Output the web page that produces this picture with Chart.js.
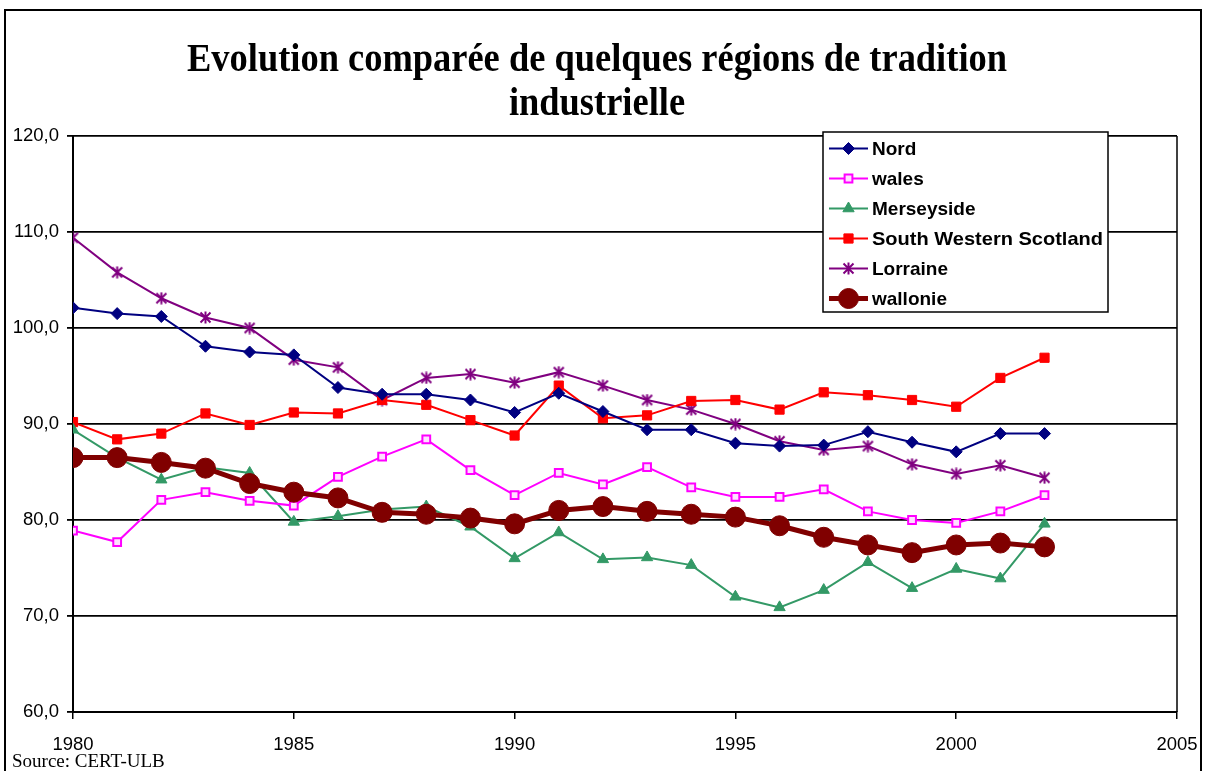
<!DOCTYPE html>
<html>
<head>
<meta charset="utf-8">
<script src="https://cdn.jsdelivr.net/npm/chart.js@4/dist/chart.umd.min.js"></script>
<style>
  html, body { margin: 0; padding: 0; background: #fff; }
  #wrap { width: 1210px; height: 771px; position: relative; }
</style>
</head>
<body>
<div id="wrap"><canvas id="c" width="1210" height="771"></canvas></div>
<script>
// données (indice, 1980-2002)
const years = [1980, 1981, 1982, 1983, 1984, 1985, 1986, 1987, 1988, 1989, 1990, 1991,
               1992, 1993, 1994, 1995, 1996, 1997, 1998, 1999, 2000, 2001, 2002];
const nord       = [102.1, 101.5, 101.2, 98.1, 97.5, 97.2, 93.8, 93.1, 93.1, 92.5, 91.2, 93.2,
                    91.3, 89.4, 89.4, 88.0, 87.7, 87.8, 89.2, 88.1, 87.1, 89.0, 89.0];
const wales      = [78.9, 77.7, 82.1, 82.9, 82.0, 81.5, 84.5, 86.6, 88.4, 85.2, 82.6, 84.9,
                    83.7, 85.5, 83.4, 82.4, 82.4, 83.2, 80.9, 80.0, 79.7, 80.9, 82.6];
const merseyside = [89.4, 86.5, 84.2, 85.5, 84.9, 79.8, 80.4, 81.1, 81.4, 79.3, 76.0, 78.7,
                    75.9, 76.1, 75.3, 72.0, 70.9, 72.7, 75.6, 72.9, 74.9, 73.9, 79.6];
const swScotland = [90.2, 88.4, 89.0, 91.1, 89.9, 91.2, 91.1, 92.5, 92.0, 90.4, 88.8, 94.0,
                    90.6, 90.9, 92.4, 92.5, 91.5, 93.3, 93.0, 92.5, 91.8, 94.8, 96.9];
const lorraine   = [109.4, 105.8, 103.1, 101.1, 100.0, 96.7, 95.9, 92.5, 94.8, 95.2, 94.3, 95.4,
                    94.0, 92.5, 91.5, 90.0, 88.2, 87.3, 87.7, 85.8, 84.8, 85.7, 84.4];
const wallonie   = [86.5, 86.5, 86.0, 85.4, 83.8, 82.9, 82.3, 80.8, 80.6, 80.2, 79.6, 81.0,
                    81.4, 80.9, 80.6, 80.3, 79.4, 78.2, 77.4, 76.6, 77.4, 77.6, 77.2];
const xTicks = [1980, 1985, 1990, 1995, 2000, 2005];
const yTicks = [60, 70, 80, 90, 100, 110, 120];

const titleLines = ['Evolution comparée de quelques régions de tradition', 'industrielle'];
const sourceText = 'Source: CERT-ULB';

// marqueur "étoile" façon Excel : une croix en x + un trait vertical
function starMarker(color) {
  const cv = document.createElement('canvas');
  cv.width = 13; cv.height = 13;
  const g = cv.getContext('2d');
  g.strokeStyle = color; g.lineWidth = 2;
  g.beginPath();
  g.moveTo(1.5, 1.5); g.lineTo(11.5, 11.5);
  g.moveTo(11.5, 1.5); g.lineTo(1.5, 11.5);
  g.moveTo(6.5, 0.5); g.lineTo(6.5, 12.5);
  g.stroke();
  return cv;
}

function pts(values) {
  return values.map((v, i) => ({ x: years[i], y: v }));
}

const series = [
  { label: 'Nord', data: nord, color: '#000080', style: 'rectRot', radius: 6, width: 2, fill: '#000080' },
  { label: 'wales', data: wales, color: '#FF00FF', style: 'rect', radius: 5.5, width: 2, fill: '#FFE0FF' },
  { label: 'Merseyside', data: merseyside, color: '#339966', style: 'triangle', radius: 6.5, width: 2, fill: '#339966' },
  { label: 'South Western Scotland', data: swScotland, color: '#FF0000', style: 'rect', radius: 6.5, width: 2, fill: '#FF0000' },
  { label: 'Lorraine', data: lorraine, color: '#800080', style: starMarker('#800080'), radius: 7, width: 2, fill: '#800080' },
  { label: 'wallonie', data: wallonie, color: '#800000', style: 'circle', radius: 10, width: 5, fill: '#800000' },
];

const datasets = series.map((s, i) => ({
  label: s.label,
  data: pts(s.data),
  borderColor: s.color,
  backgroundColor: s.fill,
  borderWidth: s.width,
  pointStyle: s.style,
  pointRadius: s.radius,
  pointBorderColor: s.color,
  pointBackgroundColor: s.fill,
  pointBorderWidth: s.label === 'wales' ? 2 : 1,
  tension: 0,
  order: s.label === 'wallonie' ? 0 : i + 1,
}));

// cadre, titre, source, bordure droite du tracé et légende dessinés à la main
const decor = {
  id: 'decor',
  beforeDraw(chart) {
    const ctx = chart.ctx;
    ctx.save();
    ctx.fillStyle = '#fff';
    ctx.fillRect(0, 0, chart.width, chart.height);
    ctx.restore();
  },
  afterDatasetsDraw(chart) {
    const ctx = chart.ctx;
    const a = chart.chartArea;
    ctx.save();

    // bordure droite de la zone de tracé
    ctx.strokeStyle = '#000';
    ctx.lineWidth = 1.5;
    ctx.beginPath();
    ctx.moveTo(a.right, a.top);
    ctx.lineTo(a.right, a.bottom);
    ctx.stroke();

    // cadre extérieur
    ctx.lineWidth = 2;
    ctx.strokeRect(5, 10, 1196, 800);

    // titre
    ctx.fillStyle = '#000';
    ctx.textAlign = 'center';
    ctx.textBaseline = 'alphabetic';
    ctx.font = 'bold 40px "Liberation Serif", "Times New Roman", serif';
    const w0 = ctx.measureText(titleLines[0]).width;
    const sx = 820 / w0;
    [[titleLines[0], 71], [titleLines[1], 115]].forEach(([t, y]) => {
      ctx.save();
      ctx.translate(597, y);
      ctx.scale(sx, 1);
      ctx.fillText(t, 0, 0);
      ctx.restore();
    });

    // source
    ctx.textAlign = 'left';
    ctx.font = '19px "Liberation Serif", "Times New Roman", serif';
    ctx.fillText(sourceText, 12, 767);

    // légende
    const lx = 823, ly = 132, lw = 285, lh = 180;
    ctx.fillStyle = '#fff';
    ctx.fillRect(lx, ly, lw, lh);
    ctx.strokeStyle = '#000';
    ctx.lineWidth = 1.5;
    ctx.strokeRect(lx, ly, lw, lh);
    ctx.font = 'bold 19px "Liberation Sans", Arial, sans-serif';
    ctx.textBaseline = 'middle';
    chart.data.datasets.forEach((ds, i) => {
      const y = 148.5 + i * 30;
      ctx.strokeStyle = ds.borderColor;
      ctx.lineWidth = ds.borderWidth;
      ctx.beginPath();
      ctx.moveTo(829, y);
      ctx.lineTo(868, y);
      ctx.stroke();
      ctx.fillStyle = ds.pointBackgroundColor;
      ctx.strokeStyle = ds.pointBorderColor;
      ctx.lineWidth = ds.pointBorderWidth;
      Chart.helpers.drawPoint(ctx, {
        pointStyle: ds.pointStyle,
        radius: ds.pointRadius,
        rotation: 0,
        borderWidth: ds.pointBorderWidth,
      }, 848.5, y);
      ctx.fillStyle = '#000';
      const tw = ctx.measureText(ds.label).width;
      ctx.save();
      ctx.translate(872, y + 1);
      if (ds.label === 'South Western Scotland') ctx.scale(Math.min(1.15, 231 / tw), 1);
      ctx.fillText(ds.label, 0, 0);
      ctx.restore();
    });

    ctx.restore();
  },
};

new Chart(document.getElementById('c'), {
  type: 'line',
  data: { datasets },
  plugins: [decor],
  options: {
    responsive: false,
    animation: false,
    layout: { padding: { top: 136, right: 33, bottom: 0, left: 0 } },
    plugins: {
      legend: { display: false },
      title: { display: false },
      tooltip: { enabled: false },
    },
    scales: {
      x: {
        type: 'linear',
        min: 1980,
        max: 2005,
        afterFit(scale) {
          scale.height = 59;
          scale.paddingLeft = 0;
          scale.paddingRight = 0;
        },
        afterBuildTicks(scale) { scale.ticks = xTicks.map(v => ({ value: v })); },
        grid: { drawOnChartArea: false, color: '#000', tickLength: 7, lineWidth: 1.5 },
        border: { color: '#000', width: 2 },
        ticks: {
          color: '#000',
          padding: 15,
          maxRotation: 0,
          font: { family: '"Liberation Sans", Arial, sans-serif', size: 18.5 },
          callback: v => String(v),
        },
      },
      y: {
        min: 60,
        max: 120,
        afterFit(scale) { scale.width = 73; },
        afterBuildTicks(scale) { scale.ticks = yTicks.map(v => ({ value: v })); },
        grid: { color: '#000', lineWidth: 1.8, tickLength: 6 },
        border: { color: '#000', width: 2 },
        ticks: {
          color: '#000',
          padding: 8,
          font: { family: '"Liberation Sans", Arial, sans-serif', size: 18.5 },
          callback: v => v.toFixed(1).replace('.', ','),
        },
      },
    },
  },
});
</script>
</body>
</html>
